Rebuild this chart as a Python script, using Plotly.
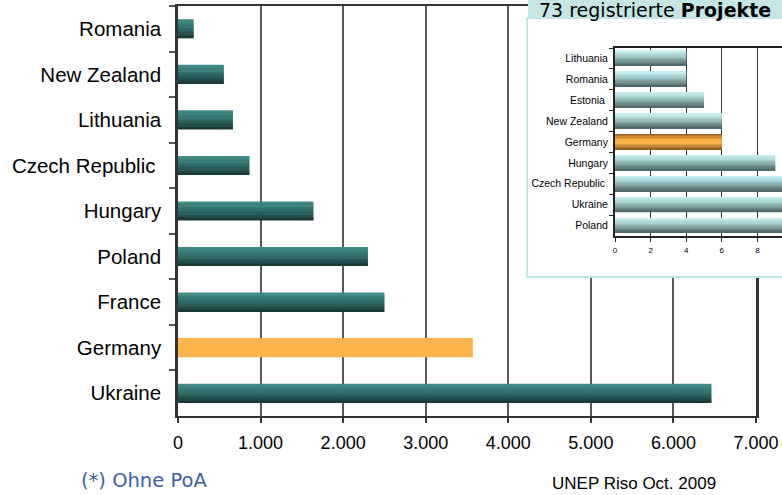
import plotly.graph_objects as go

# ---------------- data ----------------
main_countries = ["Romania", "New Zealand", "Lithuania", "Czech Republic\u00a0", "Hungary",
                  "Poland", "France", "Germany", "Ukraine"]
main_values = [190, 555, 665, 865, 1640, 2300, 2500, 3570, 6460]
main_xticks = [0, 1000, 2000, 3000, 4000, 5000, 6000, 7000]
main_xticklabels = ["0", "1.000", "2.000", "3.000", "4.000", "5.000", "6.000", "7.000"]

inset_countries = ["Lithuania", "Romania", "Estonia\u00a0", "New Zealand", "Germany", "Hungary",
                   "Czech Republic\u00a0", "Ukraine", "Poland"]
inset_values = [4, 4, 5, 6, 6, 9, 10, 12, 17]
inset_xticks = [0, 2, 4, 6, 8]
inset_xticklabels = ["0", "2", "4", "6", "8"]

inset_title = "73 registrierte <b>Projekte</b>"
footnote = "(*) Ohne PoA"
source = "UNEP Riso Oct. 2009"
highlight = "Germany"

# ---------------- helpers ----------------
W, H = 782, 495


def px_x(p):
    return p / W


def px_y(p):
    return 1 - p / H


def hex2rgb(h):
    h = h.lstrip("#")
    return tuple(int(h[i:i + 2], 16) for i in (0, 2, 4))


def grad(stops, t):
    for (t0, c0), (t1, c1) in zip(stops[:-1], stops[1:]):
        if t0 <= t <= t1:
            f = (t - t0) / (t1 - t0) if t1 > t0 else 0
            a, b = hex2rgb(c0), hex2rgb(c1)
            return "rgb(%d,%d,%d)" % tuple(round(a[k] + (b[k] - a[k]) * f) for k in range(3))
    return stops[-1][1]


main_teal = [(0, "#438f89"), (0.5, "#2e6b67"), (1, "#173432")]
main_orange = [(0, "#fbb44a"), (1, "#fbb44a")]
inset_teal = [(0, "#cff6f6"), (0.4, "#a3cbcb"), (1, "#4b6363")]
inset_orange = [(0, "#8f581a"), (0.35, "#f5aa40"), (0.6, "#fcb64b"), (1, "#8a561c")]

fig = go.Figure()

N = 12


def add_gradient_bars(cats, vals, width, stops_norm, stops_hi, xa, ya):
    h = width / N
    for i in range(N):
        t = (i + 0.5) / N
        colors = [grad(stops_hi if c.strip() == highlight else stops_norm, t) for c in cats]
        w = h * (1.35 if i < N - 1 else 1.0)
        fig.add_trace(go.Bar(
            x=vals, y=cats, orientation="h",
            width=w, offset=-width / 2 + i * h,
            marker=dict(color=colors, line=dict(width=0)),
            xaxis=xa, yaxis=ya, hoverinfo="skip", showlegend=False,
        ))


# main chart
add_gradient_bars(main_countries, main_values, 0.42, main_teal, main_orange, "x", "y")
# cover subplot (white background of the inset box)
fig.add_trace(go.Scatter(x=[], y=[], xaxis="x2", yaxis="y2", showlegend=False, hoverinfo="skip"))
# inset chart
add_gradient_bars(inset_countries, inset_values, 0.72, inset_teal, inset_orange, "x3", "y3")

font_main = "Liberation Sans, Arial, sans-serif"
font_verdana = "DejaVu Sans, Verdana, sans-serif"

bx0, bx1, by0, by1 = px_x(527), 1.0, px_y(277), px_y(18)
box_path = "M %f,%f L %f,%f L %f,%f L %f,%f" % (bx1, by1, bx0, by1, bx0, by0, bx1, by0)

fig.update_layout(
    width=W, height=H, autosize=False,
    margin=dict(l=0, r=0, t=0, b=0, autoexpand=False),
    paper_bgcolor="white", plot_bgcolor="white",
    barmode="overlay", showlegend=False,
    font=dict(family=font_main, color="black"),
    xaxis=dict(
        domain=[px_x(178), px_x(756)], range=[0, 7000], anchor="y",
        tickmode="array", tickvals=main_xticks, ticktext=main_xticklabels,
        showgrid=True, gridcolor="#5a5a5a", gridwidth=1.5, zeroline=False,
        showline=True, linecolor="#333333", linewidth=2, mirror=True,
        ticks="outside", ticklen=5, tickcolor="#333333", tickwidth=1.5,
        tickfont=dict(size=18, family=font_main, color="black"), ticklabelstandoff=4,
    ),
    yaxis=dict(
        domain=[px_y(416), px_y(6)], autorange="reversed", anchor="x",
        showgrid=False, zeroline=False,
        showline=True, linecolor="#333333", linewidth=2.5, mirror=True,
        ticks="outside", tickson="boundaries", ticklen=6, tickcolor="#555555", tickwidth=1.5,
        tickfont=dict(size=20.5, family=font_main, color="black"), ticklabelstandoff=10,
    ),
    xaxis2=dict(domain=[px_x(527), 1.0], range=[0, 1], anchor="y2", visible=False),
    yaxis2=dict(domain=[px_y(277), px_y(18)], range=[0, 1], anchor="x2", visible=False),
    xaxis3=dict(
        domain=[px_x(615), 1.0], range=[0, 9.38], anchor="y3",
        tickmode="array", tickvals=inset_xticks, ticktext=inset_xticklabels,
        showgrid=True, gridcolor="#333333", gridwidth=1.2, zeroline=False,
        showline=True, linecolor="#222222", linewidth=2, mirror=True,
        ticks="outside", ticklen=4, tickcolor="#222222",
        tickfont=dict(size=8, family=font_main, color="black"), ticklabelstandoff=1,
    ),
    yaxis3=dict(
        domain=[px_y(236), px_y(48)], autorange="reversed", anchor="x3",
        showgrid=False, zeroline=False,
        showline=True, linecolor="#222222", linewidth=2, mirror=True,
        ticks="outside", tickson="boundaries", ticklen=4, tickcolor="#222222",
        tickfont=dict(size=10.5, family=font_main, color="black"), ticklabelstandoff=3,
    ),
    shapes=[
        dict(type="path", xref="paper", yref="paper", path=box_path,
             line=dict(color="#c3e4e4", width=2), fillcolor="rgba(0,0,0,0)", layer="above"),
        dict(type="rect", xref="paper", yref="paper",
             x0=px_x(528), x1=1.0, y0=px_y(19), y1=1.0,
             line=dict(width=0), fillcolor="#c6e6e6", layer="above"),
    ],
    annotations=[
        dict(text=inset_title, xref="paper", yref="paper", x=px_x(655), y=px_y(9.5),
             xanchor="center", yanchor="middle", showarrow=False,
             font=dict(family=font_verdana, size=19, color="black")),
        dict(text=footnote, xref="paper", yref="paper", x=px_x(79), y=px_y(480),
             xanchor="left", yanchor="middle", showarrow=False,
             font=dict(family=font_verdana, size=19.5, color="#3c5ea6")),
        dict(text=source, xref="paper", yref="paper", x=px_x(550), y=px_y(483),
             xanchor="left", yanchor="middle", showarrow=False,
             font=dict(family=font_main, size=17, color="black")),
    ],
)

fig.write_html("out.html")
